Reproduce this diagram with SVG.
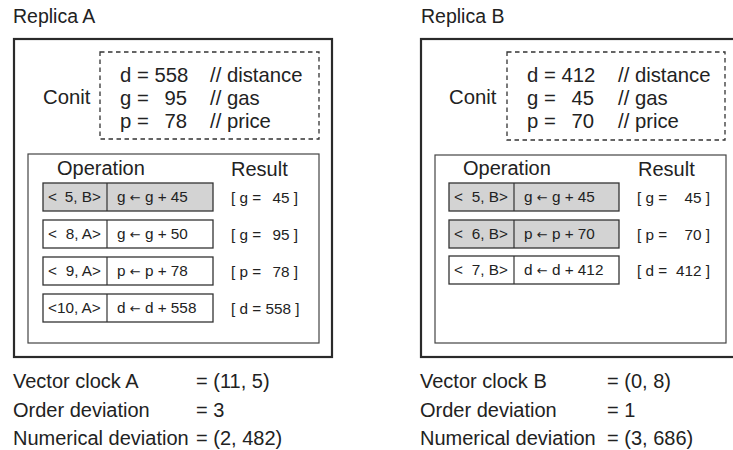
<svg xmlns="http://www.w3.org/2000/svg" width="733" height="450" viewBox="0 0 733 450">
<style>
text{font-family:"Liberation Sans",Arial,sans-serif;fill:#222}
.t{font-size:19.5px}
.c{font-size:20.3px}
.h{font-size:20px}
.o{font-size:15.3px}
.e{text-anchor:end}
.ar{font-family:"DejaVu Sans",sans-serif;font-size:13px}
.outer{fill:none;stroke:#2a2a2a;stroke-width:2.2}
.dash{fill:none;stroke:#333;stroke-width:1.3;stroke-dasharray:4.5 3.5}
.inner{fill:none;stroke:#444;stroke-width:1.2}
.op{fill:#fff;stroke:#333;stroke-width:1.3}
.g{fill:#d3d3d3}
.dv{stroke:#333;stroke-width:1.2}
.b{font-size:20px}
</style>
<g id="replicaA">
<text class="t" x="13" y="23">Replica A</text>
<rect class="outer" x="14" y="39" width="318" height="318"/>
<g id="conitA">
<rect class="dash" x="100" y="52" width="219" height="87"/>
<text class="c" x="43" y="104">Conit</text>
<text class="c" x="120" y="82">d = 558</text>
<text class="c" x="120" y="105">g =</text><text class="c e" x="187" y="105">95</text>
<text class="c" x="120" y="128">p =</text><text class="c e" x="187" y="128">78</text>
<text class="c" x="210" y="82">// distance</text>
<text class="c" x="210" y="105">// gas</text>
<text class="c" x="210" y="128">// price</text>
</g>
<g id="opsA">
<rect class="inner" x="28" y="154" width="291" height="189"/>
<text class="h" x="57" y="175">Operation</text>
<text class="h" x="231" y="176">Result</text>
<g id="opA1">
<rect class="op g" x="43" y="183" width="170" height="28"/><line class="dv" x1="107" y1="183" x2="107" y2="211"/>
<text class="o" x="48" y="202">&lt;</text><text class="o e" x="101" y="202">5, B&gt;</text>
<text class="o" x="117" y="202">g <tspan class="ar">←</tspan> g + 45</text>
<text class="o" x="231" y="203">[ g =</text><text class="o e" x="298" y="203">45 ]</text>
</g>
<g id="opA2">
<rect class="op" x="43" y="220" width="170" height="28"/><line class="dv" x1="107" y1="220" x2="107" y2="248"/>
<text class="o" x="48" y="239">&lt;</text><text class="o e" x="101" y="239">8, A&gt;</text>
<text class="o" x="117" y="239">g <tspan class="ar">←</tspan> g + 50</text>
<text class="o" x="231" y="240">[ g =</text><text class="o e" x="298" y="240">95 ]</text>
</g>
<g id="opA3">
<rect class="op" x="43" y="257" width="170" height="28"/><line class="dv" x1="107" y1="257" x2="107" y2="285"/>
<text class="o" x="48" y="276">&lt;</text><text class="o e" x="101" y="276">9, A&gt;</text>
<text class="o" x="117" y="276">p <tspan class="ar">←</tspan> p + 78</text>
<text class="o" x="231" y="277">[ p =</text><text class="o e" x="298" y="277">78 ]</text>
</g>
<g id="opA4">
<rect class="op" x="43" y="294" width="170" height="28"/><line class="dv" x1="107" y1="294" x2="107" y2="322"/>
<text class="o" x="48" y="313">&lt;10, A&gt;</text>
<text class="o" x="117" y="313">d <tspan class="ar">←</tspan> d + 558</text>
<text class="o" x="231" y="314">[ d = 558 ]</text>
</g>
</g>
<g id="statsA">
<text class="b" x="13" y="388">Vector clock A</text><text class="b" x="196" y="388">= (11, 5)</text>
<text class="b" x="13" y="417">Order deviation</text><text class="b" x="196" y="417">= 3</text>
<text class="b" x="13" y="445">Numerical deviation</text><text class="b" x="196" y="445">= (2, 482)</text>
</g>
</g>
<g id="replicaB">
<text class="t" x="421" y="23">Replica B</text>
<rect class="outer" x="421" y="39" width="318" height="318"/>
<g id="conitB">
<rect class="dash" x="507" y="52" width="218" height="88"/>
<text class="c" x="449" y="104">Conit</text>
<text class="c" x="527" y="82">d = 412</text>
<text class="c" x="527" y="105">g =</text><text class="c e" x="594" y="105">45</text>
<text class="c" x="527" y="128">p =</text><text class="c e" x="594" y="128">70</text>
<text class="c" x="618" y="82">// distance</text>
<text class="c" x="618" y="105">// gas</text>
<text class="c" x="618" y="128">// price</text>
</g>
<g id="opsB">
<rect class="inner" x="435" y="155" width="291" height="188"/>
<text class="h" x="463" y="175">Operation</text>
<text class="h" x="638" y="176">Result</text>
<g id="opB1">
<rect class="op g" x="449" y="183" width="170" height="28"/><line class="dv" x1="514" y1="183" x2="514" y2="211"/>
<text class="o" x="454" y="202">&lt;</text><text class="o e" x="508" y="202">5, B&gt;</text>
<text class="o" x="524" y="202">g <tspan class="ar">←</tspan> g + 45</text>
<text class="o" x="637" y="203">[ g =</text><text class="o e" x="710" y="203">45 ]</text>
</g>
<g id="opB2">
<rect class="op g" x="449" y="220" width="170" height="28"/><line class="dv" x1="514" y1="220" x2="514" y2="248"/>
<text class="o" x="454" y="239">&lt;</text><text class="o e" x="508" y="239">6, B&gt;</text>
<text class="o" x="524" y="239">p <tspan class="ar">←</tspan> p + 70</text>
<text class="o" x="637" y="240">[ p =</text><text class="o e" x="710" y="240">70 ]</text>
</g>
<g id="opB3">
<rect class="op" x="449" y="256" width="170" height="28"/><line class="dv" x1="514" y1="256" x2="514" y2="284"/>
<text class="o" x="454" y="275">&lt;</text><text class="o e" x="508" y="275">7, B&gt;</text>
<text class="o" x="524" y="275">d <tspan class="ar">←</tspan> d + 412</text>
<text class="o" x="637" y="276">[ d =</text><text class="o e" x="710" y="276">412 ]</text>
</g>
</g>
<g id="statsB">
<text class="b" x="420" y="388">Vector clock B</text><text class="b" x="607" y="388">= (0, 8)</text>
<text class="b" x="420" y="417">Order deviation</text><text class="b" x="607" y="417">= 1</text>
<text class="b" x="420" y="445">Numerical deviation</text><text class="b" x="607" y="445">= (3, 686)</text>
</g>
</g>
<g id="connectors"/>
</svg>
